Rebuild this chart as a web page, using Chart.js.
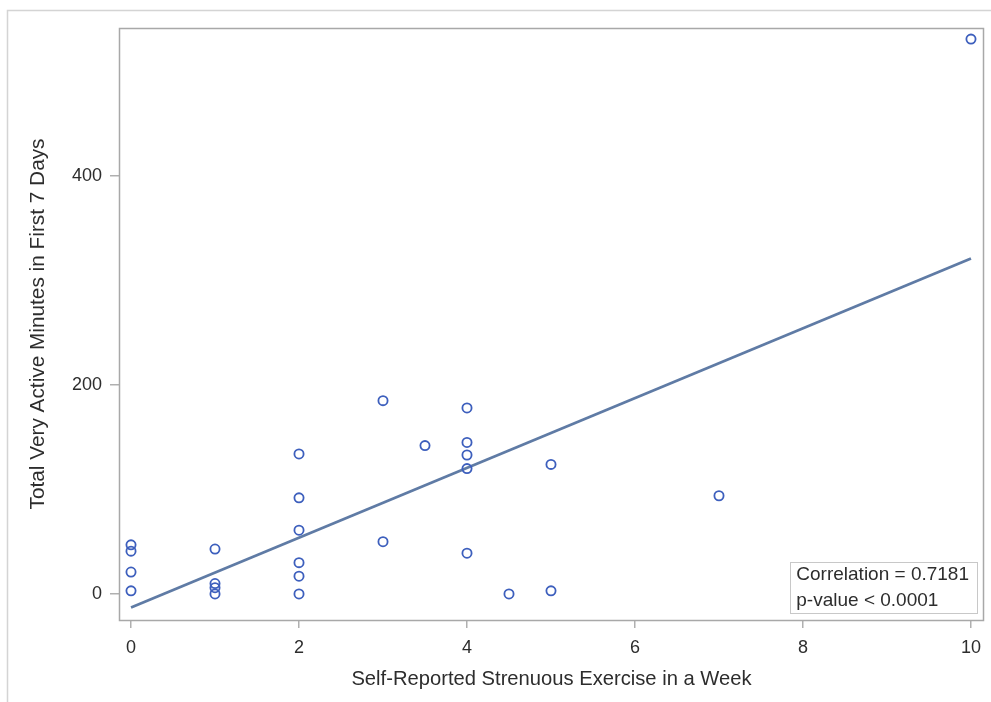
<!DOCTYPE html>
<html><head><meta charset="utf-8">
<script src="https://cdn.jsdelivr.net/npm/chart.js@4"></script>
<style>html,body{margin:0;padding:0;background:#fff}#wrap{width:991px;height:702px;position:relative}</style>
</head><body><div id="wrap"><canvas id="c"></canvas></div>
<script>
// Observations: self-reported strenuous exercise days vs. total very active minutes
const exerciseDays  = [0, 0, 0, 0, 1, 1, 1, 1, 2, 2, 2, 2, 2, 2, 3, 3, 3.5, 4, 4, 4, 4, 4, 4.5, 5, 5, 7, 10];
const activeMinutes = [47, 41, 21, 3, 43, 10, 6, 0, 134, 92, 61, 30, 17, 0, 185, 50, 142, 178, 145, 133, 120, 39, 0, 124, 3, 94, 531];
// Fitted regression line endpoints
const fitX = [0, 10];
const fitY = [-13, 321];
const xTicks = [0, 2, 4, 6, 8, 10];
const yTicks = [0, 200, 400];
const xTitle = 'Self-Reported Strenuous Exercise in a Week';
const yTitle = 'Total Very Active Minutes in First 7 Days';
const statLines = ['Correlation = 0.7181', 'p-value < 0.0001'];

const FONT = "'Liberation Sans', Arial, sans-serif";
const TXT = '#2d2d2d';

const framePlugin = {
  id: 'frames',
  beforeDraw(chart) {
    const ctx = chart.ctx;
    ctx.save();
    ctx.strokeStyle = '#d4d4d4';
    ctx.lineWidth = 1.5;
    ctx.strokeRect(7.5, 10.5, 1200, 1200);
    ctx.restore();
  },
  afterDraw(chart) {
    const ctx = chart.ctx;
    const a = chart.chartArea;
    ctx.save();
    ctx.strokeStyle = '#a8a8a8';
    ctx.lineWidth = 1.5;
    ctx.strokeRect(a.left + 0.5, a.top + 0.5, a.right - a.left - 1, a.bottom - a.top);
    // stats inset
    ctx.font = '19px ' + FONT;
    const w = Math.max(...statLines.map(s => ctx.measureText(s).width)) + 14;
    const h = 51;
    const bx = a.right - 7 - w, by = a.bottom - 7 - h;
    ctx.fillStyle = '#ffffff';
    ctx.fillRect(bx, by, w, h);
    ctx.strokeStyle = '#c8c8c8';
    ctx.lineWidth = 1;
    ctx.strokeRect(Math.round(bx) + 0.5, Math.round(by) + 0.5, Math.round(w), h);
    ctx.fillStyle = TXT;
    ctx.textBaseline = 'middle';
    ctx.textAlign = 'left';
    statLines.forEach((s, i) => ctx.fillText(s, bx + 6, by + 13 + i * 26));
    ctx.restore();
  }
};

new Chart(document.getElementById('c'), {
  type: 'scatter',
  data: {
    datasets: [
      {
        type: 'line',
        data: fitX.map((x, i) => ({ x, y: fitY[i] })),
        borderColor: '#5f7ba5',
        borderWidth: 2.8,
        pointRadius: 0,
        fill: false,
        order: 2
      },
      {
        data: exerciseDays.map((x, i) => ({ x, y: activeMinutes[i] })),
        pointStyle: 'circle',
        pointRadius: 4.6,
        pointBorderWidth: 1.8,
        borderColor: '#3d5fbd',
        backgroundColor: 'rgba(0,0,0,0)',
        order: 1
      }
    ]
  },
  options: {
    responsive: true,
    maintainAspectRatio: false,
    animation: false,
    layout: { padding: { top: 28, right: 7, left: 0, bottom: 0 } },
    plugins: { legend: { display: false }, tooltip: { enabled: false } },
    scales: {
      x: {
        type: 'linear',
        min: -0.143, max: 10.155,
        afterBuildTicks: s => { s.ticks = xTicks.map(v => ({ value: v })); },
        afterFit: s => { s.height = 82; },
        border: { display: false },
        grid: { drawOnChartArea: false, drawTicks: true, tickLength: 8, color: '#b0b0b0', lineWidth: 1.5 },
        ticks: { font: { family: FONT, size: 18 }, color: TXT, padding: 9, maxRotation: 0, autoSkip: false },
        title: { display: true, text: xTitle, font: { family: FONT, size: 20.2 }, color: TXT, padding: { top: 0, bottom: 10 } }
      },
      y: {
        type: 'linear',
        min: -24.9, max: 541.6,
        afterBuildTicks: s => { s.ticks = yTicks.map(v => ({ value: v })); },
        afterFit: s => { s.width = 119; },
        border: { display: false },
        grid: { drawOnChartArea: false, drawTicks: true, tickLength: 9, color: '#b0b0b0', lineWidth: 1.5 },
        ticks: { font: { family: FONT, size: 18 }, color: TXT, padding: 8, autoSkip: false },
        title: { display: true, text: yTitle, font: { family: FONT, size: 20.8 }, color: TXT, padding: { top: 26, bottom: 0 } }
      }
    }
  },
  plugins: [framePlugin]
});
</script>
</body></html>
